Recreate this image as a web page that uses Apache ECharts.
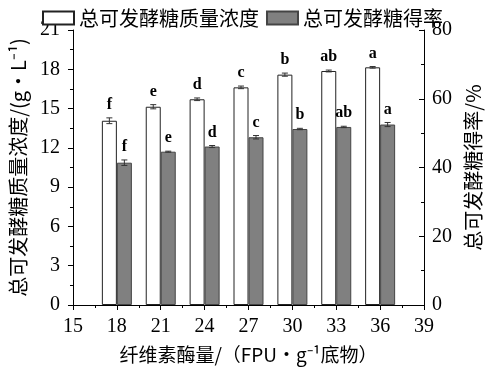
<!DOCTYPE html>
<html>
<head>
<meta charset="utf-8">
<script src="https://cdn.jsdelivr.net/npm/echarts@6/dist/echarts.min.js"></script>
<style>
  html, body { margin: 0; padding: 0; background: #fff; }
  #chart { width: 494px; height: 376px; }
</style>
</head>
<body>
<div id="chart"></div>
<script>
// 纤维素酶量
var doses = [18, 21, 24, 27, 30, 33, 36]
// 总可发酵糖质量浓度 g/L
var conc = [14.07, 15.14, 15.71, 16.62, 17.59, 17.87, 18.15]
var concErr = [0.22, 0.16, 0.1, 0.1, 0.12, 0.07, 0.06]
var concLetters = ['f', 'e', 'd', 'c', 'b', 'ab', 'a']
// 总可发酵糖得率 %
var rate = [41.4, 44.6, 46.1, 48.8, 51.2, 51.8, 52.5]
var rateErr = [0.8, 0.15, 0.3, 0.5, 0.2, 0.2, 0.6]
var rateLetters = ['f', 'e', 'd', 'c', 'b', 'ab', 'a']

var serif = 'Liberation Serif'
var cjk = 'Noto Sans CJK SC'
var BW = 15

function pairs(xs, ys, es) {
  return xs.map(function (x, i) { return [x, ys[i], es ? es[i] : 0] })
}

// 误差线 + 显著性字母
function errRender(sign, letters) {
  return function (params, api) {
    var x = api.value(0), v = api.value(1), e = api.value(2)
    var top = api.coord([x, v + e])
    var bot = api.coord([x, v - e])
    var cx = top[0] + sign * BW / 2
    var st = { stroke: '#333', lineWidth: 1 }
    return {
      type: 'group',
      children: [
        { type: 'line', shape: { x1: cx, y1: top[1], x2: cx, y2: bot[1] }, style: st },
        { type: 'line', shape: { x1: cx - 3, y1: top[1], x2: cx + 3, y2: top[1] }, style: st },
        { type: 'line', shape: { x1: cx - 3, y1: bot[1], x2: cx + 3, y2: bot[1] }, style: st },
        { type: 'text', x: cx, y: top[1] - 5,
          style: { text: letters[params.dataIndex], font: 'bold 16px ' + serif,
            fill: '#000', align: 'center', verticalAlign: 'bottom' } }
      ]
    }
  }
}

var chart = echarts.init(document.getElementById('chart'))
var axisLine = { show: true, lineStyle: { color: '#000', width: 1 } }
var option = {
  animation: false,
  grid: { left: 70, right: 70, top: 30, bottom: 71 },
  legend: {
    top: 3, left: 37,
    icon: 'rect',
    itemWidth: 31, itemHeight: 13, itemGap: 7,
    textStyle: { fontFamily: cjk, fontSize: 20, color: '#000' },
    data: ['总可发酵糖质量浓度', '总可发酵糖得率']
  },
  xAxis: {
    type: 'value', min: 15, max: 39, interval: 3,
    name: '纤维素酶量/（FPU•g⁻¹底物）', nameLocation: 'middle', nameGap: 40,
    nameTextStyle: { fontFamily: cjk, fontSize: 19, color: '#000' },
    axisLine: axisLine,
    axisTick: { show: true, length: 5, lineStyle: { color: '#000' } },
    minorTick: { show: true, splitNumber: 2, length: 3, lineStyle: { color: '#000' } },
    axisLabel: { fontFamily: serif, fontSize: 20, color: '#000', margin: 12 },
    splitLine: { show: false }
  },
  yAxis: [{
    type: 'value', min: 0, max: 21, interval: 3,
    name: '总可发酵糖质量浓度/(g•L⁻¹)', nameLocation: 'middle', nameGap: 45, nameRotate: 90,
    nameTextStyle: { fontFamily: cjk, fontSize: 20, color: '#000' },
    axisLine: axisLine,
    axisTick: { show: true, length: 5, lineStyle: { color: '#000' } },
    minorTick: { show: true, splitNumber: 2, length: 3, lineStyle: { color: '#000' } },
    axisLabel: { fontFamily: serif, fontSize: 20, color: '#000', margin: 13 },
    splitLine: { show: false }
  }, {
    type: 'value', min: 0, max: 80, interval: 20, position: 'right',
    name: '总可发酵糖得率/%', nameLocation: 'middle', nameGap: 39, nameRotate: 90,
    nameTextStyle: { fontFamily: cjk, fontSize: 20, color: '#000' },
    axisLine: axisLine,
    axisTick: { show: true, inside: true, length: 5, lineStyle: { color: '#000' } },
    minorTick: { show: true, splitNumber: 2, length: 3, lineStyle: { color: '#000' } },
    axisLabel: { fontFamily: serif, fontSize: 20, color: '#000', margin: 8 },
    splitLine: { show: false }
  }],
  series: [{
    name: '总可发酵糖质量浓度', type: 'bar', yAxisIndex: 0,
    barWidth: BW, barGap: '0%',
    itemStyle: { color: '#fff', borderColor: '#222', borderWidth: 1 },
    data: pairs(doses, conc)
  }, {
    name: '总可发酵糖得率', type: 'bar', yAxisIndex: 1,
    barWidth: BW, barGap: '0%',
    itemStyle: { color: '#808080', borderColor: '#444', borderWidth: 1 },
    data: pairs(doses, rate)
  }, {
    type: 'custom', yAxisIndex: 0, z: 5,
    renderItem: errRender(-1, concLetters),
    data: pairs(doses, conc, concErr)
  }, {
    type: 'custom', yAxisIndex: 1, z: 5,
    renderItem: errRender(1, rateLetters),
    data: pairs(doses, rate, rateErr)
  }]
}
chart.setOption(option)
</script>
</body>
</html>
